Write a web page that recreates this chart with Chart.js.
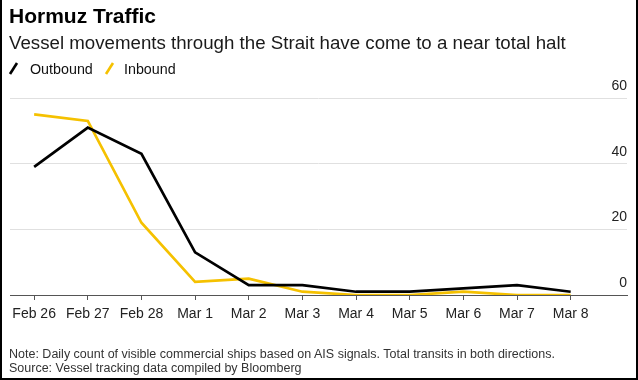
<!DOCTYPE html>
<html>
<head>
<meta charset="utf-8">
<script src="https://cdn.jsdelivr.net/npm/chart.js@4.4.1/dist/chart.umd.min.js"></script>
<style>
  html, body { margin: 0; padding: 0; background: #fff; }
  body { position: relative; width: 638px; height: 380px; overflow: hidden; font-family: "Liberation Sans", Arial, sans-serif; }
  #frame { position: absolute; left: 0; top: 0; width: 638px; height: 380px; box-sizing: border-box;
           border-left: 2px solid #000; border-right: 2px solid #000; border-bottom: 2px solid #000; pointer-events: none; }
  canvas { position: absolute; left: 0; top: 0; }
  .t { position: absolute; white-space: nowrap; }
  #title { left: 9px; top: 5px; font-size: 21px; line-height: 21px; font-weight: bold; color: #000; }
  #subtitle { left: 9px; top: 34px; font-size: 18.7px; line-height: 18.7px; color: #1a1a1a; }
  .leg { top: 62px; font-size: 14.3px; line-height: 14px; color: #111; }
  .note { left: 9px; font-size: 12.5px; line-height: 12.5px; color: #333; }
  svg.sl { position: absolute; }
</style>
</head>
<body>
<canvas id="c" width="638" height="380"></canvas>
<div class="t" id="title">Hormuz Traffic</div>
<div class="t" id="subtitle">Vessel movements through the Strait have come to a near total halt</div>
<svg class="sl" style="left:8px;top:61px" width="12" height="15"><line x1="2" y1="13" x2="9" y2="2" stroke="#000" stroke-width="2.6"/></svg>
<div class="t leg" style="left:30px">Outbound</div>
<svg class="sl" style="left:104px;top:61px" width="12" height="15"><line x1="2" y1="13" x2="9" y2="2" stroke="#f5c100" stroke-width="2.6"/></svg>
<div class="t leg" style="left:124px">Inbound</div>
<div class="t note" style="top:347.6px">Note: Daily count of visible commercial ships based on AIS signals. Total transits in both directions.</div>
<div class="t note" style="top:362.4px">Source: Vessel tracking data compiled by Bloomberg</div>
<div id="frame"></div>
<script>
const categories = ['Feb 26','Feb 27','Feb 28','Mar 1','Mar 2','Mar 3','Mar 4','Mar 5','Mar 6','Mar 7','Mar 8'];
const outbound = [39, 51, 43, 13, 3, 3, 1, 1, 2, 3, 1];
const inbound  = [55, 53, 22, 4, 5, 1, 0, 0, 1, 0, 0];
const yTicks = [0, 20, 40, 60];

const toPts = arr => arr.map((v, i) => ({ x: i, y: v }));

Chart.defaults.font.family = '"Liberation Sans", Arial, sans-serif';
Chart.defaults.color = '#222';

new Chart(document.getElementById('c'), {
  type: 'line',
  data: {
    datasets: [
      { label: 'Outbound', data: toPts(outbound), borderColor: '#000', borderWidth: 2.7, pointRadius: 0, tension: 0, fill: false },
      { label: 'Inbound', data: toPts(inbound), borderColor: '#f5c100', borderWidth: 2.7, pointRadius: 0, tension: 0, fill: false }
    ]
  },
  options: {
    responsive: false,
    animation: false,
    layout: { padding: { left: 10, right: 11, top: 98, bottom: 45 } },
    plugins: { legend: { display: false }, tooltip: { enabled: false } },
    scales: {
      x: {
        type: 'linear',
        min: -0.45,
        max: 11.05,
        afterBuildTicks: s => { s.ticks = categories.map((_, i) => ({ value: i })); },
        afterFit: s => { s.height = 40; },
        ticks: {
          autoSkip: false, maxRotation: 0, padding: 6,
          font: { size: 14 }, color: '#222',
          callback: v => categories[v]
        },
        grid: { drawOnChartArea: false, drawTicks: true, tickLength: 5, tickColor: '#555', tickWidth: 1 },
        border: { display: true, color: '#555', width: 1 }
      },
      y: {
        position: 'right',
        min: 0, max: 60,
        afterBuildTicks: s => { s.ticks = yTicks.map(v => ({ value: v })); },
        afterFit: s => { s.width = 0; },
        ticks: { mirror: true, padding: 0, labelOffset: -12, font: { size: 14 }, color: '#222' },
        grid: { color: '#e0e0e0', lineWidth: 1, drawTicks: false },
        border: { display: false }
      }
    }
  }
});
</script>
</body>
</html>
